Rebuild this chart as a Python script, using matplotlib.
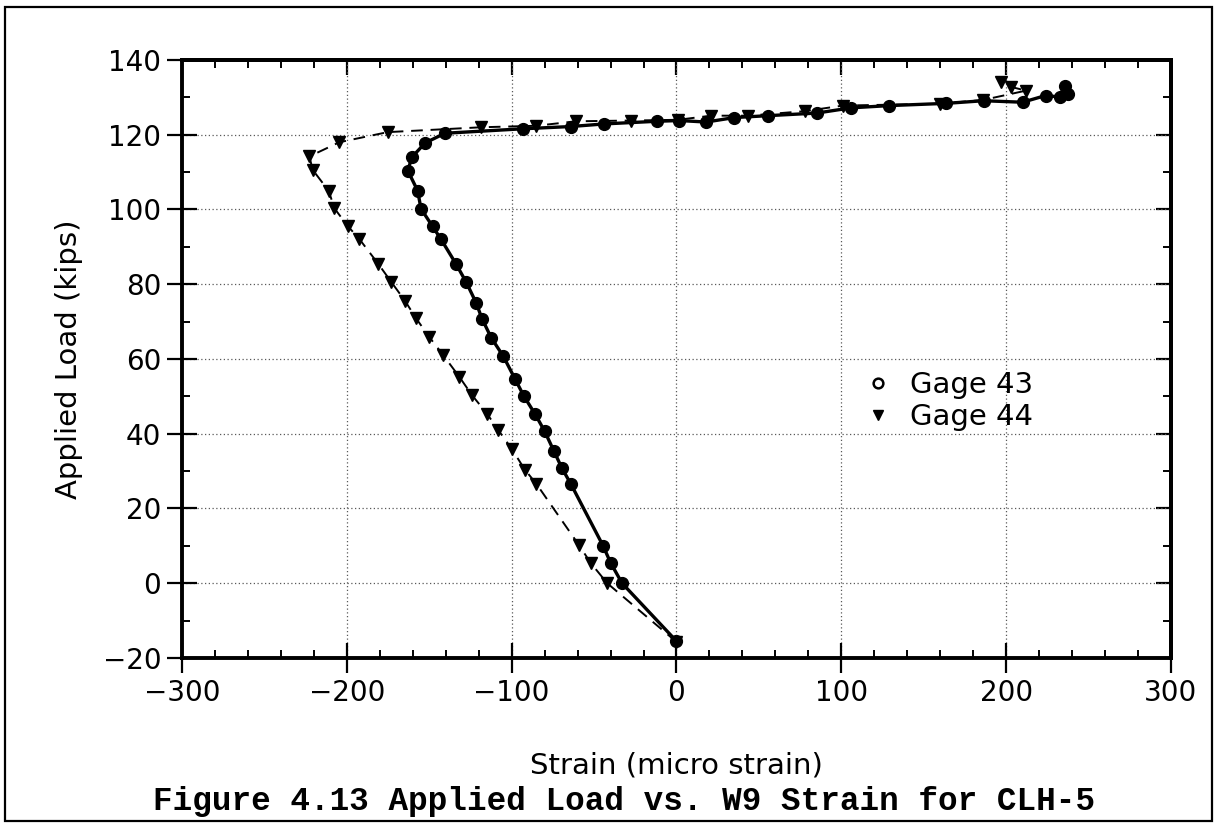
import matplotlib
matplotlib.use("Agg")
import matplotlib.pyplot as plt
from matplotlib.lines import Line2D
from matplotlib.patches import Rectangle
from matplotlib.ticker import MultipleLocator

# Gage 43 (circles, solid line)
strain43 = [0, -33, -40, -44.5, -64, -69.5, -74.5, -80, -85.7, -92.6, -98, -105,
            -112.4, -118, -121.5, -127.5, -133.7, -142.8, -148, -155, -157, -163,
            -160.5, -152.5, -140.5, -93, -64, -43.7, -12, 1.8, 18, 35.2, 55.4,
            85.1, 106, 129.2, 163.7, 186.3, 210, 224, 232.4, 237.5, 235.4]
load43 = [-15.5, 0, 5.5, 10, 26.5, 30.8, 35.5, 40.7, 45.2, 50.1, 54.7, 60.7,
          65.7, 70.8, 75, 80.5, 85.4, 92, 95.5, 100.2, 105, 110.4,
          114, 117.8, 120.4, 121.6, 122.2, 122.9, 123.6, 123.8, 123.4, 124.6, 125.1,
          125.8, 127.2, 127.8, 128.4, 129.1, 128.7, 130.5, 130.1, 131, 133.1]

# Gage 44 (triangles, dashed line)
strain44 = [0, -42, -52, -59, -85, -92, -100, -108, -115, -124, -131.7, -141.8,
            -150, -158, -164.6, -173, -181, -192.4, -199.5, -207.5, -211, -220.7,
            -222.7, -204.5, -175.2, -118.5, -85.1, -60.9, -27.5, 1, 21, 43.3,
            77.7, 100.9, 159.6, 186, 212, 203, 197]
load44 = [-15.7, 0, 5.4, 10.1, 26.6, 30.4, 36, 40.9, 45.4, 50.3, 55.2, 61.2,
          65.9, 70.9, 75.5, 80.6, 85.5, 92.1, 95.6, 100.3, 105, 110.6,
          114.2, 118, 120.7, 122, 122.4, 123.6, 123.8, 124, 125.1, 125.1,
          126.3, 127.8, 128.3, 129.3, 131.8, 132.8, 134]

labels = ["Gage 43", "Gage 44"]
caption = "Figure 4.13 Applied Load vs. W9 Strain for CLH-5"

fig = plt.figure(figsize=(12.18, 8.23), dpi=100)
ax = fig.add_axes([0.1494, 0.2005, 0.812, 0.7266])

ax.plot(strain44, load44, color="black", lw=1.4, ls=(0, (6, 4)),
        marker="v", ms=9, mfc="black", mec="black", zorder=3)
ax.plot(strain43, load43, color="black", lw=2.4, ls="-",
        marker="o", ms=8.5, mfc="black", mec="black", zorder=4)

ax.set_xlim(-300, 300)
ax.set_ylim(-20, 140)
ax.xaxis.set_major_locator(MultipleLocator(100))
ax.xaxis.set_minor_locator(MultipleLocator(20))
ax.yaxis.set_major_locator(MultipleLocator(20))
ax.yaxis.set_minor_locator(MultipleLocator(10))
ax.grid(True, which="major", color="0.35", ls=(0, (1, 2)), lw=0.9)

# bottom/left ticks cross the axis, top/right ticks point inward
ax.tick_params(which="major", direction="inout", length=22, width=1.6,
               labelsize=20, pad=4, top=False, right=False)
ax.tick_params(which="minor", direction="in", length=6, width=1.4,
               top=False, right=False)
for spine in ax.spines.values():
    spine.set_linewidth(2.8)

sec_x = ax.secondary_xaxis("top")
sec_x.xaxis.set_major_locator(MultipleLocator(100))
sec_x.xaxis.set_minor_locator(MultipleLocator(20))
sec_x.tick_params(which="major", direction="in", length=11, width=1.6, labeltop=False)
sec_x.tick_params(which="minor", direction="in", length=6, width=1.4)
sec_x.spines["top"].set_linewidth(2.8)
sec_y = ax.secondary_yaxis("right")
sec_y.yaxis.set_major_locator(MultipleLocator(20))
sec_y.yaxis.set_minor_locator(MultipleLocator(10))
sec_y.tick_params(which="major", direction="in", length=11, width=1.6, labelright=False)
sec_y.tick_params(which="minor", direction="in", length=6, width=1.4)
sec_y.spines["right"].set_linewidth(2.8)

ax.set_xlabel("Strain (micro strain)", fontsize=21, labelpad=32)
ax.set_ylabel("Applied Load (kips)", fontsize=21, labelpad=14)

handles = [Line2D([], [], ls="none", marker="o", ms=7, mfc="white", mec="black", mew=1.8),
           Line2D([], [], ls="none", marker="v", ms=7, mfc="black", mec="black")]
ax.legend(handles, labels, loc="upper left", bbox_to_anchor=(0.655, 0.524),
          frameon=False, fontsize=21, handletextpad=0.35, labelspacing=0.15,
          handlelength=1.5)

fig.text(0.512, 0.026, caption, ha="center", va="center",
         family="Liberation Mono", fontsize=23.5, fontweight="bold")

fig.patches.append(Rectangle((0.004, 0.002), 0.991, 0.990, transform=fig.transFigure,
                             fill=False, lw=1.6, ec="black"))

fig.savefig("out.png", dpi=100)
